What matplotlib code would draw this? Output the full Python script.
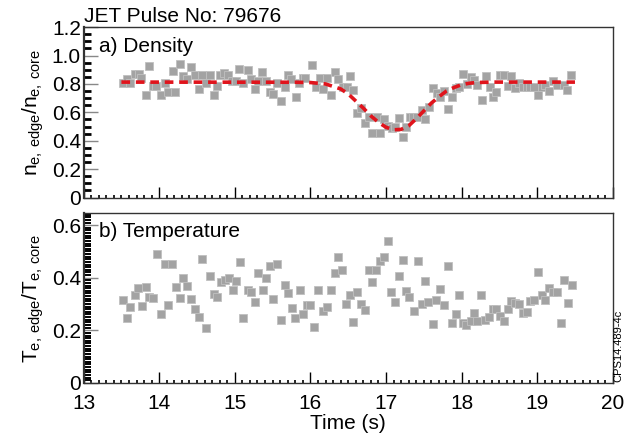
import matplotlib
matplotlib.use('Agg')
import matplotlib.pyplot as plt
from matplotlib.ticker import MultipleLocator

plt.rcParams['font.family'] = ['Liberation Sans', 'DejaVu Sans']
plt.rcParams['mathtext.default'] = 'regular'

# a) density ratio
t_dens = [13.52, 13.57, 13.62, 13.68, 13.73, 13.76, 13.82, 13.87, 13.92, 13.96,
          14.02, 14.07, 14.11, 14.18, 14.21, 14.28, 14.32, 14.37, 14.42, 14.47,
          14.53, 14.57, 14.62, 14.67, 14.72, 14.77, 14.81, 14.86, 14.91, 14.96,
          15.01, 15.06, 15.11, 15.17, 15.22, 15.27, 15.31, 15.36, 15.41, 15.46,
          15.51, 15.56, 15.61, 15.66, 15.70, 15.75, 15.81, 15.85, 15.90, 15.93,
          16.02, 16.07, 16.13, 16.17, 16.22, 16.27, 16.32, 16.37, 16.43, 16.48,
          16.52, 16.57, 16.62, 16.67, 16.72, 16.77, 16.82, 16.88, 16.92, 16.97,
          17.03, 17.08, 17.12, 17.17, 17.22, 17.27, 17.32, 17.36, 17.41, 17.48,
          17.52, 17.57, 17.62, 17.67, 17.72, 17.77, 17.82, 17.87, 17.92, 17.97,
          18.02, 18.07, 18.12, 18.17, 18.21, 18.27, 18.32, 18.37, 18.41, 18.46,
          18.51, 18.56, 18.61, 18.66, 18.71, 18.76, 18.81, 18.86, 18.91, 18.96,
          19.01, 19.06, 19.10, 19.15, 19.21, 19.26, 19.35, 19.40, 19.45]
n_ratio = [0.806, 0.834, 0.806, 0.871, 0.870, 0.840, 0.723, 0.928, 0.787, 0.787,
           0.723, 0.806, 0.740, 0.888, 0.740, 0.942, 0.853, 0.834, 0.919, 0.860,
           0.764, 0.860, 0.806, 0.860, 0.723, 0.787, 0.860, 0.880, 0.860, 0.820,
           0.820, 0.907, 0.806, 0.895, 0.834, 0.764, 0.820, 0.883, 0.820, 0.740,
           0.730, 0.806, 0.683, 0.780, 0.860, 0.834, 0.710, 0.806, 0.840, 0.840,
           0.935, 0.777, 0.840, 0.764, 0.840, 0.723, 0.883, 0.834, 0.777, 0.777,
           0.857, 0.760, 0.594, 0.630, 0.524, 0.566, 0.453, 0.570, 0.457, 0.552,
           0.505, 0.488, 0.500, 0.563, 0.429, 0.500, 0.566, 0.566, 0.566, 0.617,
           0.552, 0.637, 0.770, 0.735, 0.711, 0.747, 0.622, 0.711, 0.770, 0.777,
           0.871, 0.800, 0.848, 0.830, 0.790, 0.688, 0.853, 0.777, 0.711, 0.740,
           0.860, 0.860, 0.787, 0.853, 0.770, 0.806, 0.777, 0.777, 0.777, 0.777,
           0.723, 0.777, 0.790, 0.747, 0.824, 0.790, 0.790, 0.760, 0.865]

# fitted curve
t_fit = [13.5, 15.8, 16.0, 16.2, 16.4, 16.5, 16.6, 16.7, 16.8, 16.9, 17.0, 17.1,
         17.2, 17.3, 17.4, 17.5, 17.6, 17.7, 17.8, 17.9, 18.0, 18.1, 18.2, 18.4, 19.5]
n_fit = [0.813, 0.812, 0.810, 0.800, 0.765, 0.730, 0.680, 0.630, 0.575, 0.530,
         0.495, 0.477, 0.480, 0.505, 0.555, 0.610, 0.665, 0.710, 0.750, 0.775,
         0.795, 0.805, 0.810, 0.813, 0.813]

# b) temperature ratio
t_temp = [13.52, 13.57, 13.62, 13.68, 13.72, 13.77, 13.82, 13.87, 13.92, 13.97,
          14.02, 14.07, 14.12, 14.17, 14.22, 14.27, 14.32, 14.37, 14.42, 14.47,
          14.52, 14.57, 14.62, 14.67, 14.72, 14.77, 14.82, 14.87, 14.92, 14.97,
          15.02, 15.07, 15.11, 15.17, 15.22, 15.27, 15.31, 15.37, 15.41, 15.46,
          15.51, 15.56, 15.61, 15.66, 15.71, 15.76, 15.80, 15.86, 15.90, 15.95,
          16.00, 16.05, 16.10, 16.17, 16.22, 16.27, 16.32, 16.37, 16.42, 16.47,
          16.52, 16.57, 16.62, 16.67, 16.72, 16.77, 16.82, 16.87, 16.92, 16.97,
          17.02, 17.07, 17.12, 17.17, 17.22, 17.27, 17.31, 17.37, 17.42, 17.47,
          17.52, 17.56, 17.62, 17.66, 17.72, 17.77, 17.82, 17.87, 17.92, 17.97,
          18.02, 18.06, 18.12, 18.17, 18.21, 18.26, 18.31, 18.36, 18.41, 18.46,
          18.51, 18.56, 18.61, 18.66, 18.71, 18.76, 18.81, 18.86, 18.91, 18.96,
          19.01, 19.06, 19.11, 19.16, 19.21, 19.26, 19.31, 19.36, 19.41, 19.46]
T_ratio = [0.317, 0.247, 0.287, 0.336, 0.359, 0.292, 0.363, 0.325, 0.322, 0.489,
           0.260, 0.454, 0.295, 0.451, 0.363, 0.322, 0.400, 0.369, 0.318, 0.280,
           0.249, 0.473, 0.207, 0.405, 0.337, 0.326, 0.383, 0.391, 0.400, 0.355,
           0.387, 0.460, 0.248, 0.355, 0.346, 0.308, 0.418, 0.355, 0.400, 0.443,
           0.318, 0.451, 0.239, 0.372, 0.342, 0.283, 0.248, 0.355, 0.261, 0.296,
           0.296, 0.213, 0.352, 0.274, 0.287, 0.352, 0.418, 0.477, 0.428, 0.299,
           0.334, 0.230, 0.346, 0.301, 0.276, 0.428, 0.384, 0.431, 0.464, 0.477,
           0.539, 0.346, 0.308, 0.406, 0.469, 0.349, 0.326, 0.273, 0.464, 0.298,
           0.386, 0.308, 0.222, 0.314, 0.356, 0.295, 0.444, 0.228, 0.260, 0.333,
           0.228, 0.219, 0.235, 0.266, 0.236, 0.333, 0.239, 0.252, 0.281, 0.281,
           0.254, 0.236, 0.280, 0.313, 0.303, 0.300, 0.265, 0.269, 0.313, 0.315,
           0.423, 0.333, 0.315, 0.359, 0.346, 0.346, 0.228, 0.392, 0.304, 0.374]

fig = plt.figure(figsize=(6.24, 4.38), dpi=100)
ax1 = fig.add_axes([0.134, 0.549, 0.848, 0.389])
ax2 = fig.add_axes([0.134, 0.126, 0.848, 0.387])

gray = '#a3a3a3'
for ax in (ax1, ax2):
    for s in ax.spines.values():
        s.set_color('#333333')
        s.set_linewidth(1.0)
    ax.spines['left'].set_linewidth(1.6)
    ax.set_xlim(13, 20)
    ax.xaxis.set_major_locator(MultipleLocator(1))
    ax.xaxis.set_minor_locator(MultipleLocator(0.1))
    ax.tick_params(axis='x', which='major', direction='in', length=8, width=1,
                   top=False, labelsize=15, pad=8)
    ax.tick_params(axis='x', which='minor', direction='in', length=2, width=1.2, top=False)
    ax.tick_params(axis='y', which='major', direction='in', length=10, width=1,
                   color='#888888', right=False, labelsize=15, pad=2)
    ax.tick_params(axis='y', which='minor', direction='in', length=5, width=2, right=False)

ax1.plot(t_dens, n_ratio, 's', ms=5.2, color=gray, mec='#c0c0c0', mew=0.6, ls='none')
ax1.plot(t_fit, n_fit, '--', color='#e0141c', lw=2.6, dashes=(2.4, 1.6))
ax1.set_ylim(0, 1.2)
ax1.set_yticks([0, 0.2, 0.4, 0.6, 0.8, 1.0, 1.2])
ax1.set_yticklabels(['0', '0.2', '0.4', '0.6', '0.8', '1.0', '1.2'])
ax1.yaxis.set_minor_locator(MultipleLocator(0.05))
ax1.tick_params(axis='x', labelbottom=False)
ax1.set_ylabel('$n_{e,\\,edge}/n_{e,\\,core}$', fontsize=15, labelpad=4)
ax1.text(0.03, 0.94, 'a) Density', transform=ax1.transAxes, fontsize=15, va='top')
ax1.text(0.0, 1.005, 'JET Pulse No: 79676', transform=ax1.transAxes, fontsize=15,
         va='bottom', ha='left')

ax2.plot(t_temp, T_ratio, 's', ms=5.2, color=gray, mec='#c0c0c0', mew=0.6, ls='none')
ax2.set_ylim(0, 0.645)
ax2.set_yticks([0, 0.2, 0.4, 0.6])
ax2.set_yticklabels(['0', '0.2', '0.4', '0.6'])
ax2.yaxis.set_minor_locator(MultipleLocator(0.01))
ax2.tick_params(axis='y', which='minor', length=5, width=1.4)
ax2.set_ylabel('$T_{e,\\,edge}/T_{e,\\,core}$', fontsize=15, labelpad=4)
ax2.set_xlabel('Time (s)', fontsize=15, labelpad=1)
ax2.text(0.03, 0.95, 'b) Temperature', transform=ax2.transAxes, fontsize=15, va='top')

fig.text(0.999, 0.128, 'CPS14.489-4c', rotation=90, fontsize=8, ha='right', va='bottom')

fig.savefig('out.png', dpi=100)
